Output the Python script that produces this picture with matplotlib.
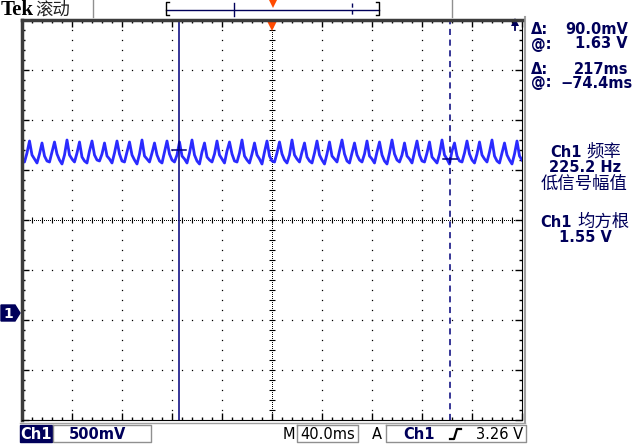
import matplotlib
matplotlib.use('Agg')
import matplotlib.pyplot as plt
import numpy as np

plt.rcParams['font.family'] = ['DejaVu Sans', 'Noto Sans CJK SC']

# ---- data ----
# ch1 samples, volts, every 2 ms from -200 ms to +200 ms (one row = one 10 ms cycle)
ch1_rows = [
    [1.53, 1.51, 1.60, 1.72, 1.58], [1.54, 1.50, 1.59, 1.70, 1.57],
    [1.52, 1.51, 1.61, 1.71, 1.59], [1.53, 1.49, 1.58, 1.73, 1.58],
    [1.54, 1.51, 1.60, 1.71, 1.56], [1.52, 1.50, 1.62, 1.72, 1.58],
    [1.53, 1.52, 1.59, 1.70, 1.57], [1.54, 1.50, 1.60, 1.72, 1.59],
    [1.52, 1.51, 1.61, 1.71, 1.58], [1.53, 1.49, 1.59, 1.73, 1.57],
    [1.54, 1.51, 1.60, 1.70, 1.58], [1.52, 1.50, 1.61, 1.72, 1.59],
    [1.53, 1.51, 1.58, 1.71, 1.57], [1.54, 1.50, 1.60, 1.73, 1.58],
    [1.52, 1.49, 1.61, 1.70, 1.56], [1.53, 1.51, 1.59, 1.72, 1.58],
    [1.54, 1.50, 1.62, 1.71, 1.59], [1.52, 1.51, 1.60, 1.73, 1.57],
    [1.53, 1.50, 1.59, 1.70, 1.58], [1.54, 1.49, 1.61, 1.72, 1.57],
    [1.52, 1.51, 1.60, 1.71, 1.59], [1.53, 1.50, 1.58, 1.73, 1.58],
    [1.54, 1.51, 1.61, 1.70, 1.56], [1.52, 1.50, 1.60, 1.72, 1.58],
    [1.53, 1.49, 1.59, 1.71, 1.57], [1.54, 1.51, 1.62, 1.73, 1.59],
    [1.52, 1.50, 1.60, 1.70, 1.58], [1.53, 1.51, 1.59, 1.72, 1.57],
    [1.54, 1.50, 1.61, 1.71, 1.58], [1.52, 1.49, 1.60, 1.73, 1.59],
    [1.53, 1.51, 1.58, 1.70, 1.57], [1.54, 1.50, 1.61, 1.72, 1.58],
    [1.52, 1.51, 1.60, 1.71, 1.56], [1.53, 1.50, 1.59, 1.73, 1.58],
    [1.54, 1.49, 1.62, 1.70, 1.57], [1.52, 1.51, 1.60, 1.72, 1.59],
    [1.53, 1.50, 1.59, 1.71, 1.58], [1.54, 1.51, 1.61, 1.73, 1.57],
    [1.52, 1.50, 1.60, 1.70, 1.58], [1.53, 1.49, 1.59, 1.72, 1.57],
]
ch1_last = [1.53]
t_start, t_step = -200.0, 2.0          # ms

cursor_t = [-74.4, 142.6]              # ms
cursor_v = [1.63, 1.54]                # V

volts_div = 0.5
ms_div = 40.0
ground_top = 2.93                      # top of screen in volts

readouts = [('Δ:', '90.0mV'), ('@:', '1.63 V'), ('Δ:', '217ms'), ('@:', '−74.4ms')]

navy = '#00005a'
trace = '#2a2aff'
cur = '#00007a'

v = np.concatenate([np.array(ch1_rows).ravel(), ch1_last])
t = t_start + t_step * np.arange(len(v))

fig = plt.figure(figsize=(6.43, 4.44), dpi=100)
W, H = 643, 444

# overlay in pixel coords for the screen furniture
ov = fig.add_axes([0, 0, 1, 1])
ov.set_xlim(0, W)
ov.set_ylim(H, 0)
ov.axis('off')

# scope window
x0, y0, x1, y1 = 22, 20, 522, 420
ax = fig.add_axes([x0 / W, 1 - y1 / H, (x1 - x0) / W, (y1 - y0) / H])
ax.set_xlim(-5 * ms_div, 5 * ms_div)
ybot = ground_top - 8 * volts_div
ax.set_ylim(ybot, ground_top)
ax.patch.set_alpha(0)

xmaj = np.arange(-5, 6) * ms_div
ymaj = ybot + np.arange(0, 9) * volts_div
xmin = np.arange(-200, 200.1, ms_div / 5)
ymin = ybot + np.arange(0, 41) * volts_div / 5
ax.set_xticks(xmaj)
ax.set_yticks(ymaj)
ax.set_xticks(xmin, minor=True)
ax.set_yticks(ymin, minor=True)
ax.tick_params(which='both', direction='in', top=True, right=True,
               labelbottom=False, labelleft=False, color='black', width=1)
ax.tick_params(which='major', length=5)
ax.tick_params(which='minor', length=2.5)
for s in ['left', 'top']:
    ax.spines[s].set_color('#3c3c3c')
    ax.spines[s].set_linewidth(2.5)
for s in ['right', 'bottom']:
    ax.spines[s].set_color('black')
    ax.spines[s].set_linewidth(0.8)
    ax.spines[s].set_linestyle((0, (1, 1)))

# graticule dots
yc = ybot + 4 * volts_div
for xm in xmaj[1:-1]:
    if xm == 0:
        continue
    ax.plot(np.full(len(ymin), xm), ymin, 's', ms=0.9, color='black', mew=0)
for ym in ymaj[1:-1]:
    if abs(ym - yc) < 1e-6:
        continue
    ax.plot(xmin, np.full(len(xmin), ym), 's', ms=0.9, color='black', mew=0)
# centre cross, finer dots
xf = np.arange(-200, 200.1, 1.6)
yf = np.arange(ybot, ground_top + 1e-6, 0.02)
ax.plot(xf, np.full(len(xf), yc), 's', ms=0.7, color='black', mew=0)
ax.plot(np.zeros(len(yf)), yf, 's', ms=0.7, color='black', mew=0)
ax.plot(xmin, np.full(len(xmin), yc), '|', ms=4, color='black', mew=0.8)
ax.plot(np.zeros(len(ymin)), ymin, '_', ms=4, color='black', mew=0.8)

# trace
ax.plot(t, v, color=trace, lw=2.0)

# cursors
ax.axvline(cursor_t[0], color=cur, lw=1.1)
ax.axvline(cursor_t[1], color=cur, lw=1.1, ls=(0, (4, 3)))
ax.plot([cursor_t[0] - 5.6, cursor_t[0] + 5.6], [cursor_v[0]] * 2, color=cur, lw=1.1)
ax.plot([cursor_t[1] - 5.6, cursor_t[1] + 5.6], [cursor_v[1]] * 2, color=cur, lw=1.1)

# trigger position marker on top of screen
ax.plot([0], [ground_top - 0.05], marker='v', ms=8, color='#ff4a00', mew=0, clip_on=False)
# trigger level above screen
ov.plot([515, 515], [21, 30], color=navy, lw=1.3)
ov.plot([515], [22], marker='^', ms=6, color=navy, mew=0)

# header
ov.text(1, 10, 'Tek', fontfamily='Liberation Serif', fontweight='bold', fontsize=15,
        va='center', ha='left', color='black')
ov.text(35, 10, '滚动', fontfamily=['Noto Sans CJK SC'], fontsize=12.5, va='center',
        ha='left', color='#202020')
ov.plot([93, 93], [0, 17], color='#909090', lw=1)
ov.plot([452, 452], [0, 17], color='#909090', lw=1)
ov.plot([166, 379], [10, 10], color=navy, lw=1)
ov.plot([169, 166, 166, 169], [15, 15, 2, 2], color='black', lw=1)
ov.plot([376, 379, 379, 376], [15, 15, 2, 2], color='black', lw=1)
ov.plot([234, 234], [3, 16], color=navy, lw=1)
ov.plot([352, 352], [3, 16], color=navy, lw=1, ls=(0, (3, 2)))
ov.plot([273], [4], marker='v', ms=5.5, color='#ff4a00', mew=0)

# right edge of the screen
ov.plot([525, 525], [17, 422], color='#a0a0a0', lw=1.5)
ov.plot([20, 525], [422.5, 422.5], color='#a0a0a0', lw=1)

ry = [30, 44, 69, 83]
for (lab, val), yy in zip(readouts, ry):
    ov.text(531, yy, lab, fontsize=10.5, fontweight='bold', color=navy, va='center', ha='left')
    ov.text(628 if val != '−74.4ms' else 633, yy, val, fontsize=10.5, fontweight='bold',
            color=navy, va='center', ha='right')

# measurement readouts
ov.text(566, 152, 'Ch1', fontsize=10.5, fontweight='bold', color=navy, va='center', ha='center')
ov.text(604, 152, '频率', fontfamily=['Noto Sans CJK SC'], fontsize=12.5, color=navy,
        va='center', ha='center')
ov.text(585, 167, '225.2 Hz', fontsize=10.5, fontweight='bold', color=navy, va='center', ha='center')
ov.text(584, 184, '低信号幅值', fontfamily=['Noto Sans CJK SC'], fontsize=12.5, color=navy,
        va='center', ha='center')
ov.text(556, 222, 'Ch1', fontsize=10.5, fontweight='bold', color=navy, va='center', ha='center')
ov.text(603, 222, '均方根', fontfamily=['Noto Sans CJK SC'], fontsize=12.5, color=navy,
        va='center', ha='center')
ov.text(585, 237, '1.55 V', fontsize=10.5, fontweight='bold', color=navy, va='center', ha='center')

# ground marker for ch1
ov.fill([1, 15, 20, 15, 1], [305, 305, 313, 321, 321], color=navy)
ov.text(8, 313.5, '1', color='white', fontsize=10, fontweight='bold', va='center', ha='center')

# bottom bar
ov.fill([20, 52, 52, 20], [425, 425, 442, 442], color=navy)
ov.text(36, 434, 'Ch1', color='white', fontsize=10.5, fontweight='bold', va='center', ha='center')
ov.plot([53, 151, 151, 53, 53], [425, 425, 442, 442, 425], color='#909090', lw=1)
ov.text(97, 434, '500mV', color=navy, fontsize=10.5, fontweight='bold', va='center', ha='center')
ov.text(289, 434, 'M', color='black', fontsize=10.5, va='center', ha='center')
ov.plot([297, 358, 358, 297, 297], [425, 425, 442, 442, 425], color='#909090', lw=1)
ov.text(328, 434, '40.0ms', color='black', fontsize=10.5, va='center', ha='center')
ov.text(377, 434, 'A', color='black', fontsize=10.5, va='center', ha='center')
ov.plot([386, 526, 526, 386, 386], [425, 425, 442, 442, 425], color='#909090', lw=1)
ov.text(419, 434, 'Ch1', color=navy, fontsize=10.5, fontweight='bold', va='center', ha='center')
ov.plot([450, 454, 457, 461], [439, 439, 429, 429], color='black', lw=1.6)
ov.text(523, 434, '3.26 V', color='black', fontsize=10.5, va='center', ha='right')

plt.savefig('out.png', dpi=100)
plt.close()
